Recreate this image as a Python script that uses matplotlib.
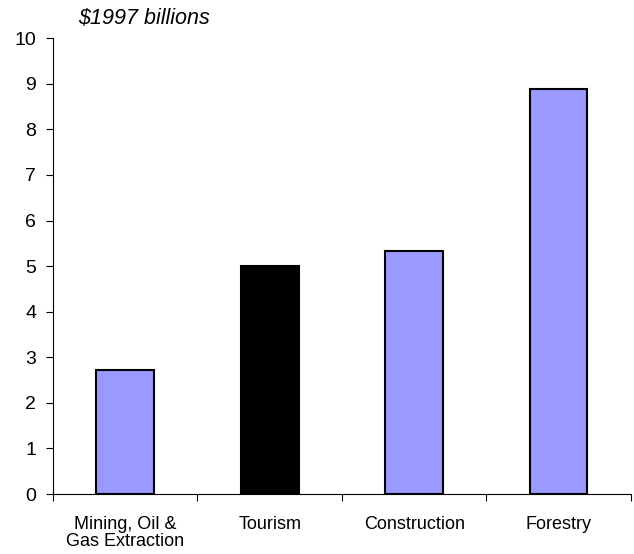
import numpy as np
import matplotlib.pyplot as plt

# data
categories = ["Mining, Oil &\nGas Extraction", "Tourism", "Construction", "Forestry"]
values = [2.72, 5.0, 5.33, 8.88]
colors = ["#9999FF", "#000000", "#9999FF", "#9999FF"]

plt.rcParams["font.family"] = ["Liberation Sans", "DejaVu Sans"]

fig = plt.figure(figsize=(6.34, 5.54), dpi=100)
ax = fig.add_axes([0.0836, 0.1083, 0.9114, 0.8227])

x = np.arange(len(categories))
ax.bar(x, values, width=0.4, color=colors, edgecolor="black", linewidth=1.5)

ax.set_xlim(-0.5, len(categories) - 0.5)
ax.set_ylim(0, 10)
ax.set_yticks(range(0, 11))
ax.tick_params(axis="y", labelsize=14, length=5, pad=7, direction="out")

# category boundaries as ticks, labels centred
ax.set_xticks(np.arange(-0.5, len(categories), 1.0))
ax.set_xticklabels([])
ax.set_xticks(x, minor=True)
ax.set_xticklabels(categories, minor=True, fontsize=13, linespacing=1.05)
ax.tick_params(axis="x", which="major", length=5, direction="out")
ax.tick_params(axis="x", which="minor", length=0, pad=15.5)

for s in ["top", "right"]:
    ax.spines[s].set_visible(False)

fig.text(0.124, 0.9675, "\\$1997 billions", fontsize=15.5, style="italic", va="center")

plt.savefig("out.png", dpi=100)
